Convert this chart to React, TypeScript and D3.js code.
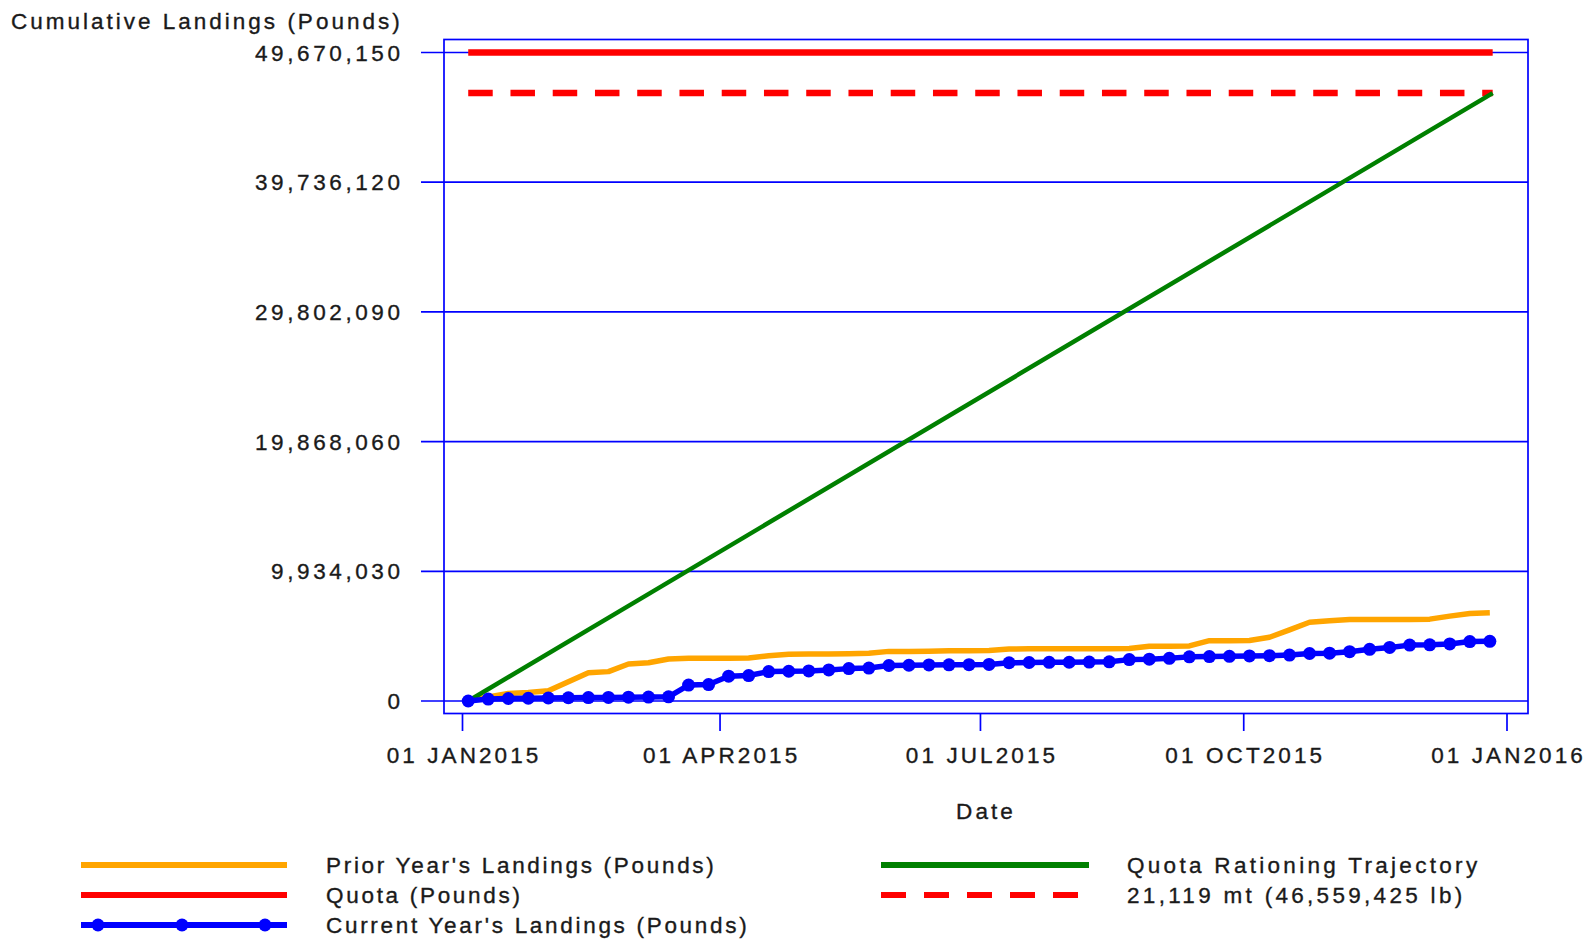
import React from "react";
import * as d3 from "d3";

// ---------- data ----------
const weekDates = [
  "2015-01-03", "2015-01-10", "2015-01-17", "2015-01-24", "2015-01-31",
  "2015-02-07", "2015-02-14", "2015-02-21", "2015-02-28",
  "2015-03-07", "2015-03-14", "2015-03-21", "2015-03-28",
  "2015-04-04", "2015-04-11", "2015-04-18", "2015-04-25",
  "2015-05-02", "2015-05-09", "2015-05-16", "2015-05-23", "2015-05-30",
  "2015-06-06", "2015-06-13", "2015-06-20", "2015-06-27",
  "2015-07-04", "2015-07-11", "2015-07-18", "2015-07-25",
  "2015-08-01", "2015-08-08", "2015-08-15", "2015-08-22", "2015-08-29",
  "2015-09-05", "2015-09-12", "2015-09-19", "2015-09-26",
  "2015-10-03", "2015-10-10", "2015-10-17", "2015-10-24", "2015-10-31",
  "2015-11-07", "2015-11-14", "2015-11-21", "2015-11-28",
  "2015-12-05", "2015-12-12", "2015-12-19", "2015-12-26",
];

const currentYearLandings = [
  0, 150000, 190000, 210000, 230000, 250000, 260000, 275000, 290000, 300000,
  320000, 1220000, 1260000, 1900000, 1950000, 2250000, 2280000, 2300000, 2380000, 2480000,
  2520000, 2720000, 2740000, 2760000, 2770000, 2780000, 2800000, 2930000, 2950000, 2960000,
  2970000, 2980000, 3000000, 3170000, 3200000, 3270000, 3380000, 3400000, 3420000, 3450000,
  3470000, 3520000, 3640000, 3660000, 3780000, 3960000, 4100000, 4280000, 4300000, 4370000,
  4550000, 4570000,
];

const priorYearLandings = [
  50000, 300000, 580000, 650000, 780000, 1480000, 2170000, 2250000, 2830000, 2930000,
  3220000, 3270000, 3270000, 3280000, 3300000, 3470000, 3580000, 3600000, 3600000, 3620000,
  3650000, 3800000, 3800000, 3820000, 3850000, 3850000, 3870000, 3980000, 4000000, 4000000,
  4000000, 4000000, 4000000, 4020000, 4200000, 4200000, 4220000, 4620000, 4620000, 4630000,
  4880000, 5450000, 6030000, 6150000, 6250000, 6250000, 6250000, 6250000, 6270000, 6500000,
  6700000, 6750000,
];

const refDates = ["2015-01-03", "2015-12-27"];
const quotaValues = [49670150, 49670150];
const targetValues = [46559425, 46559425];
const trajectoryValues = [0, 46559425];

const yTickValues = [0, 9934030, 19868060, 29802090, 39736120, 49670150];
const xTickDates = ["2015-01-01", "2015-04-01", "2015-07-01", "2015-10-01", "2016-01-01"];
const xTickLabels = ["01 JAN2015", "01 APR2015", "01 JUL2015", "01 OCT2015", "01 JAN2016"];

const legendLeft = [
  { label: "Prior Year's Landings (Pounds)", color: "#FFA500", dash: null, markers: false },
  { label: "Quota (Pounds)", color: "#FF0000", dash: null, markers: false },
  { label: "Current Year's Landings (Pounds)", color: "#0000FF", dash: null, markers: true },
];
const legendRight = [
  { label: "Quota Rationing Trajectory", color: "#008000", dash: null, markers: false },
  { label: "21,119 mt (46,559,425 lb)", color: "#FF0000", dash: "25,18", markers: false },
];

// ---------- component ----------
export default function App() {
  const W = 1588;
  const H = 939;
  const frame = { left: 444, right: 1528, top: 39.5, bottom: 713.5 };
  const parse = d3.utcParse("%Y-%m-%d");

  const x = d3
    .scaleUtc()
    .domain([parse("2015-01-01")!, parse("2016-01-01")!])
    .range([462.5, 1507]);
  const y = d3.scaleLinear().domain([0, 49670150]).range([701, 52.5]);

  type P = { d: Date; v: number };
  const line = d3
    .line<P>()
    .x((p) => x(p.d))
    .y((p) => y(p.v));

  const cur: P[] = weekDates.map((d, i) => ({ d: parse(d)!, v: currentYearLandings[i] }));
  const prior: P[] = weekDates.map((d, i) => ({ d: parse(d)!, v: priorYearLandings[i] }));
  const quota: P[] = refDates.map((d, i) => ({ d: parse(d)!, v: quotaValues[i] }));
  const target: P[] = refDates.map((d, i) => ({ d: parse(d)!, v: targetValues[i] }));
  const traj: P[] = refDates.map((d, i) => ({ d: parse(d)!, v: trajectoryValues[i] }));

  const fmt = d3.format(",");
  const font = "'Liberation Sans', Arial, sans-serif";
  const textColor = "#1a1a1a";
  const ls = 3.1;
  const fs = 22.5;
  const textStroke = { stroke: textColor, strokeWidth: 0.35 };

  const legendRow = (item: any, i: number, lx1: number, lx2: number, tx: number, lsp: number) => {
    const ly = 865 + i * 30;
    return (
      <g key={item.label}>
        <line
          x1={lx1}
          x2={lx2}
          y1={ly}
          y2={ly}
          stroke={item.color}
          strokeWidth={6}
          strokeDasharray={item.dash || undefined}
        />
        {item.markers &&
          [98, 182, 265].map((mx) => (
            <circle key={mx} cx={mx} cy={ly} r={6.5} fill={item.color} />
          ))}
        <text
          x={tx}
          y={ly + 8}
          fontFamily={font}
          fontSize={fs}
          letterSpacing={lsp}
          fill={textColor}
          {...textStroke}
        >
          {item.label}
        </text>
      </g>
    );
  };

  return (
    <div style={{ position: "absolute", left: 0, top: 0, background: "#fff" }}>
      <svg width={W} height={H} style={{ display: "block", background: "#fff" }}>
        {/* y axis title */}
        <text x={11} y={29} fontFamily={font} fontSize={fs} letterSpacing={3.0} fill={textColor} {...textStroke}>
          Cumulative Landings (Pounds)
        </text>

        {/* gridlines + y ticks */}
        {yTickValues.map((v) => (
          <g key={v}>
            <line x1={421} x2={frame.right} y1={y(v)} y2={y(v)} stroke="#0000FF" strokeWidth={1.7} />
            <text
              x={400 + 3.6}
              y={y(v) + 8}
              textAnchor="end"
              fontFamily={font}
              fontSize={fs}
              letterSpacing={3.6}
              fill={textColor}
              {...textStroke}
            >
              {fmt(v)}
            </text>
          </g>
        ))}

        {/* frame */}
        <rect
          x={frame.left}
          y={frame.top}
          width={frame.right - frame.left}
          height={frame.bottom - frame.top}
          fill="none"
          stroke="#0000FF"
          strokeWidth={1.7}
        />

        {/* x ticks */}
        {xTickDates.map((d, i) => {
          const xx = x(parse(d)!);
          return (
            <g key={d}>
              <line x1={xx} x2={xx} y1={frame.bottom} y2={731} stroke="#0000FF" strokeWidth={1.7} />
              <text
                x={xx + ls / 2}
                y={763}
                textAnchor="middle"
                fontFamily={font}
                fontSize={fs}
                letterSpacing={ls}
                fill={textColor}
                {...textStroke}
              >
                {xTickLabels[i]}
              </text>
            </g>
          );
        })}
        <text
          x={(frame.left + frame.right) / 2}
          y={819}
          textAnchor="middle"
          fontFamily={font}
          fontSize={fs}
          letterSpacing={ls}
          fill={textColor}
          {...textStroke}
        >
          Date
        </text>

        {/* series */}
        <path d={line(quota)!} fill="none" stroke="#FF0000" strokeWidth={6.5} />
        <path d={line(target)!} fill="none" stroke="#FF0000" strokeWidth={6.5} strokeDasharray="24.5,17.75" />
        <path d={line(prior)!} fill="none" stroke="#FFA500" strokeWidth={5.5} strokeLinejoin="round" />
        <path d={line(traj)!} fill="none" stroke="#008000" strokeWidth={4.5} />
        <path d={line(cur)!} fill="none" stroke="#0000FF" strokeWidth={5.5} strokeLinejoin="round" />
        {cur.map((p, i) => (
          <circle key={i} cx={x(p.d)} cy={y(p.v)} r={6.5} fill="#0000FF" />
        ))}

        {/* legend */}
        {legendLeft.map((it, i) => legendRow(it, i, 81, 287, 326, 2.7))}
        {legendRight.map((it, i) => legendRow(it, i, 881, 1089, 1127, 3.3))}
      </svg>
    </div>
  );
}
